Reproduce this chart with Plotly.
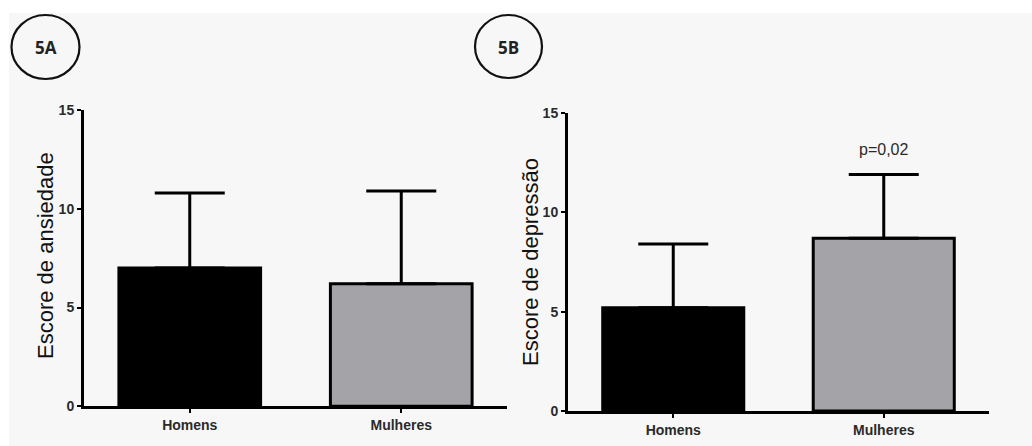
import plotly.graph_objects as go

W, H = 1032, 446

# Data
groups = ["Homens", "Mulheres"]
ansiedade_mean = [7.0, 6.2]
ansiedade_sd = [3.8, 4.7]
depressao_mean = [5.2, 8.7]
depressao_sd = [3.2, 3.2]
y_ticks = [0, 5, 10, 15]
bar_colors = ["#000000", "#a4a3a8"]

FONT = "Liberation Sans, Arial, sans-serif"


def px_x(v):
    return v / W


def px_y(v):
    return 1 - v / H


def bar_trace(means, sds, xa, ya):
    return go.Bar(
        x=groups,
        y=means,
        xaxis=xa,
        yaxis=ya,
        width=0.67,
        marker=dict(color=bar_colors, line=dict(color="#000000", width=3)),
        error_y=dict(
            type="data",
            symmetric=False,
            array=sds,
            arrayminus=[0] * len(sds),
            color="#000000",
            thickness=3,
            width=35,
        ),
        showlegend=False,
        hoverinfo="skip",
    )


fig = go.Figure()
fig.add_trace(bar_trace(ansiedade_mean, ansiedade_sd, "x", "y"))
fig.add_trace(bar_trace(depressao_mean, depressao_sd, "x2", "y2"))

axis_common = dict(
    showline=True,
    linecolor="#000000",
    linewidth=3,
    ticks="outside",
    ticklen=4,
    tickwidth=2,
    tickcolor="#000000",
    showgrid=False,
    zeroline=False,
    automargin=False,
    fixedrange=True,
)
xaxis_style = dict(
    axis_common,
    type="category",
    range=[-0.5, 1.5],
    tickfont=dict(family=FONT, size=14, color="#2a2a2a", weight="bold"),
)
yaxis_style = dict(
    axis_common,
    range=[0, 15],
    tickvals=y_ticks,
    tickfont=dict(family=FONT, size=14, color="#2a2a2a", weight="bold"),
)

fig.update_layout(
    width=W,
    height=H,
    margin=dict(l=0, r=0, t=0, b=0, pad=0),
    paper_bgcolor="#ffffff",
    plot_bgcolor="rgba(0,0,0,0)",
    xaxis=dict(xaxis_style, domain=[px_x(84), px_x(507)], anchor="y"),
    yaxis=dict(yaxis_style, domain=[px_y(406.3), px_y(110)], anchor="x"),
    xaxis2=dict(xaxis_style, domain=[px_x(568), px_x(989)], anchor="y2"),
    yaxis2=dict(yaxis_style, domain=[px_y(411), px_y(113)], anchor="x2"),
)

fig.update_layout(shapes=[
    # light page panel
    dict(type="rect", xref="paper", yref="paper", x0=px_x(9), x1=1, y0=0, y1=px_y(13),
         fillcolor="#f7f7f7", line=dict(width=0), layer="below"),
    # panel badges
    dict(type="circle", xref="paper", yref="paper", x0=px_x(11.5), x1=px_x(79.5),
         y0=px_y(79), y1=px_y(15), line=dict(color="#111111", width=2.2)),
    dict(type="circle", xref="paper", yref="paper", x0=px_x(475), x1=px_x(542),
         y0=px_y(78), y1=px_y(15), line=dict(color="#111111", width=2.2)),
])


def label(text, x, y, size, family, weight="normal", angle=0, color="#1a1a1a"):
    return dict(text=text, x=px_x(x), y=px_y(y), xref="paper", yref="paper",
                xanchor="center", yanchor="middle", textangle=angle, showarrow=False,
                font=dict(family=family, size=size, color=color, weight=weight))


fig.update_layout(annotations=[
    label("5A", 46, 48, 17, "Open Sans, sans-serif", "bold", color="#222222"),
    label("5B", 508.5, 48, 17, "Open Sans, sans-serif", "bold", color="#222222"),
    label("Escore de ansiedade", 45, 256, 22, FONT, angle=-90, color="#111111"),
    label("Escore de depressão", 530, 262, 22, FONT, angle=-90, color="#111111"),
    dict(text="p=0,02", x="Mulheres", y=depressao_mean[1] + depressao_sd[1], xref="x2", yref="y2",
         yanchor="middle", yshift=25, showarrow=False,
         font=dict(family=FONT, size=16, color="#2a2a2a")),
])

fig.write_html("out.html")
